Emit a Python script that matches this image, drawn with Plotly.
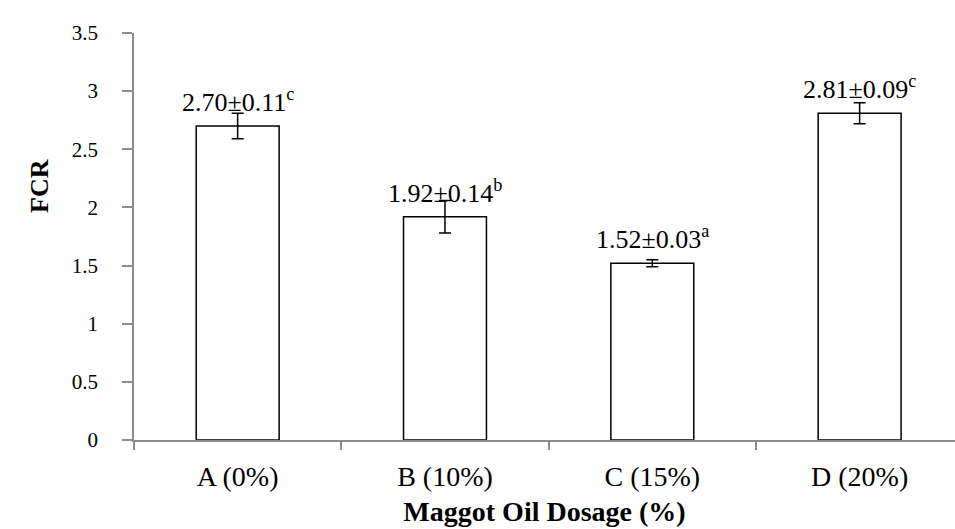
import plotly.graph_objects as go

# Feed conversion ratio by maggot oil dosage
groups = ["A (0%)", "B (10%)", "C (15%)", "D (20%)"]
fcr_mean = [2.70, 1.92, 1.52, 2.81]
fcr_sd = [0.11, 0.14, 0.03, 0.09]
sig_letters = ["c", "b", "a", "c"]
y_ticks = [0, 0.5, 1, 1.5, 2, 2.5, 3, 3.5]

SERIF = "Liberation Serif"
AXIS_GREY = "#8c8c8c"

fig = go.Figure()
fig.add_trace(go.Bar(
    x=groups,
    y=fcr_mean,
    width=0.4,
    marker=dict(color="white", line=dict(color="black", width=1.5)),
    error_y=dict(type="data", array=fcr_sd, visible=True,
                 color="black", thickness=1.5, width=6),
    showlegend=False,
))

# mean ± SD labels with significance letters above each bar
for g, m, s, letter in zip(groups, fcr_mean, fcr_sd, sig_letters):
    fig.add_annotation(
        x=g, y=m, xref="x", yref="y",
        text=f"{m:.2f}±{s:.2f}<sup>{letter}</sup>",
        showarrow=False, yanchor="bottom", yshift=7,
        font=dict(family=SERIF, size=26, color="black"),
    )

# vertical axis title, set a little above the middle of the axis
fig.add_annotation(
    text="<b>FCR</b>", xref="paper", yref="paper",
    x=-0.136, y=0.624, textangle=-90, showarrow=False,
    font=dict(family=SERIF, size=26, color="black"),
)

fig.update_layout(
    width=955, height=529,
    margin=dict(l=134, r=0, t=33, b=89),
    paper_bgcolor="white", plot_bgcolor="white",
    font=dict(family=SERIF, color="black"),
)
fig.update_xaxes(
    range=[-0.5, 3.46],
    tickson="boundaries",
    ticks="outside", ticklen=8, tickcolor=AXIS_GREY, tickwidth=1.5,
    ticklabelstandoff=11,
    showline=True, linecolor=AXIS_GREY, linewidth=1.5,
    showgrid=False,
    tickfont=dict(family=SERIF, size=28, color="black"),
    title=dict(text="<b>Maggot Oil Dosage (%)</b>", standoff=10,
               font=dict(family=SERIF, size=28, color="black")),
)
fig.update_yaxes(
    range=[0, 3.5],
    tickvals=y_ticks,
    ticktext=[f"{t:g}" for t in y_ticks],
    ticks="outside", ticklen=10, tickcolor=AXIS_GREY, tickwidth=1.5,
    ticklabelstandoff=20,
    showline=True, linecolor=AXIS_GREY, linewidth=1.5,
    showgrid=False, zeroline=False,
    tickfont=dict(family=SERIF, size=21, color="black"),
)

fig.write_html("out.html")
